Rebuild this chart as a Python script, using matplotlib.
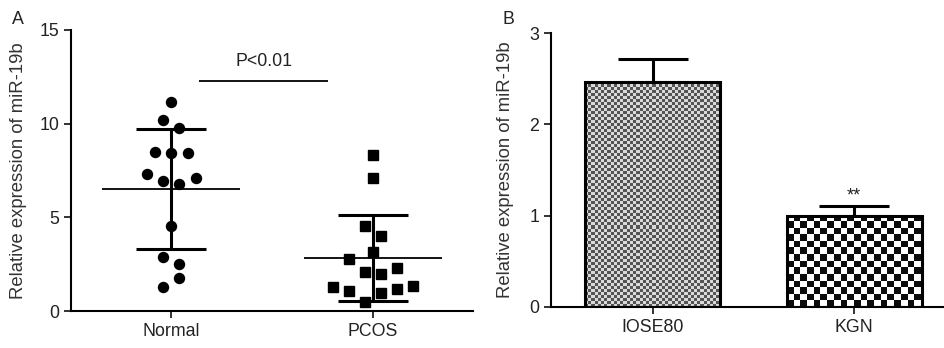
import numpy as np
import matplotlib
matplotlib.use("Agg")
import matplotlib.pyplot as plt

plt.rcParams['font.family'] = ['Liberation Sans', 'DejaVu Sans']
plt.rcParams['font.size'] = 12

# panel A: individual samples
groups = ["Normal", "PCOS"]
normal_vals = [11.17, 10.2, 9.75, 8.47, 8.42, 8.42, 7.3, 6.94, 6.78, 7.08,
               4.55, 2.9, 2.49, 1.74, 1.30]
pcos_vals = [8.33, 7.08, 4.55, 4.02, 3.13, 2.78, 2.1, 1.96, 2.31, 1.27,
             1.09, 0.94, 1.16, 1.35, 0.46]
group_mean = [6.51, 2.85]
group_sd = [3.18, 2.30]
p_text = "P<0.01"

# panel B: cell lines
cells = ["IOSE80", "KGN"]
cell_vals = [2.47, 1.0]
cell_err = [0.25, 0.10]

# horizontal jitter for the dot plot (layout only)
normal_off = [0, -0.038, 0.041, -0.08, 0, 0.083, -0.12, -0.038, 0.041, 0.124,
              0, -0.038, 0.041, 0.041, -0.038]
pcos_off = [0, 0, -0.041, 0.041, 0, -0.12, -0.041, 0.041, 0.12, -0.2,
            -0.12, 0.041, 0.12, 0.2, -0.041]

fig = plt.figure(figsize=(9.45, 3.48), dpi=100)
axA = fig.add_axes([71 / 945, 1 - 311 / 348, 402 / 945, 281 / 348])
axB = fig.add_axes([551 / 945, 1 - 306.7 / 348, 394 / 945, 273.4 / 348])

for ax in (axA, axB):
    for s in ("top", "right"):
        ax.spines[s].set_visible(False)
    for s in ("left", "bottom"):
        ax.spines[s].set_linewidth(1.5)
    ax.tick_params(width=1.3, length=5, labelsize=12.8, colors="#222222")
    ax.set_ylabel("Relative expression of miR-19b", fontsize=13.3, color="#333333")

# ---- panel A
xs = [1, 2]
axA.plot(np.array(normal_off) + xs[0], normal_vals, "o", color="black", ms=7.2)
axA.plot(np.array(pcos_off) + xs[1], pcos_vals, "s", color="black", ms=6.5)
for x, m, sd in zip(xs, group_mean, group_sd):
    axA.hlines(m, x - 0.34, x + 0.34, color="black", lw=1.3)
    axA.errorbar(x, m, yerr=sd, fmt="none", ecolor="black", elinewidth=2.2,
                 capsize=25, capthick=2.2)
axA.hlines(12.3, 1.139, 1.777, color="black", lw=1.3)
axA.text(1.458, 13.3, p_text, ha="center", va="center", fontsize=12.8, color="#222222")
axA.set_xlim(0.505, 2.495)
axA.set_ylim(0, 15)
axA.set_yticks([0, 5, 10, 15])
axA.set_xticks(xs)
axA.set_xticklabels(groups)
axA.yaxis.set_label_coords(-0.11, 0.5)

# ---- panel B
bw = 0.67
bars = axB.bar(xs, cell_vals, width=bw, facecolor="none", edgecolor="black",
               linewidth=2.2, zorder=3)
axB.errorbar(xs, cell_vals, yerr=[[0, 0], cell_err], fmt="none", ecolor="black",
             elinewidth=2.2, capsize=25, capthick=2.2, zorder=2)
# checkerboard fills clipped to each bar
periods = [(0.0158, 0.033), (0.033, 0.072)]  # (x cell, y cell) in data units
tones = [(0.33, 0.85), (0.05, 1.0)]
for b, (cx, cy), (lo, hi) in zip(bars, periods, tones):
    x0, w, h = b.get_x(), b.get_width(), b.get_height()
    nx_, ny_ = int(w / cx) + 1, int(h / cy) + 1
    board = (np.add.outer(np.arange(ny_), np.arange(nx_)) % 2) * (hi - lo) + lo
    im = axB.imshow(board, cmap="gray", vmin=0, vmax=1, interpolation="nearest",
                    extent=[x0, x0 + nx_ * cx, 0, ny_ * cy], origin="lower",
                    aspect="auto", zorder=2.5)
    im.set_clip_path(b)
axB.text(xs[1], cell_vals[1] + cell_err[1] + 0.11, "**", ha="center", va="center",
         fontsize=13, color="#222222")
axB.set_xlim(0.4955, 2.45)
axB.set_ylim(0, 3)
axB.set_yticks([0, 1, 2, 3])
axB.set_xticks(xs)
axB.set_xticklabels(cells)
axB.yaxis.set_label_coords(-0.095, 0.5)

fig.text(18 / 945, 1 - 20 / 348, "A", fontsize=12.8, ha="center", va="center", color="#222222")
fig.text(508 / 945, 1 - 19 / 348, "B", fontsize=12.8, ha="center", va="center", color="#222222")

fig.savefig("out.png", dpi=100)
